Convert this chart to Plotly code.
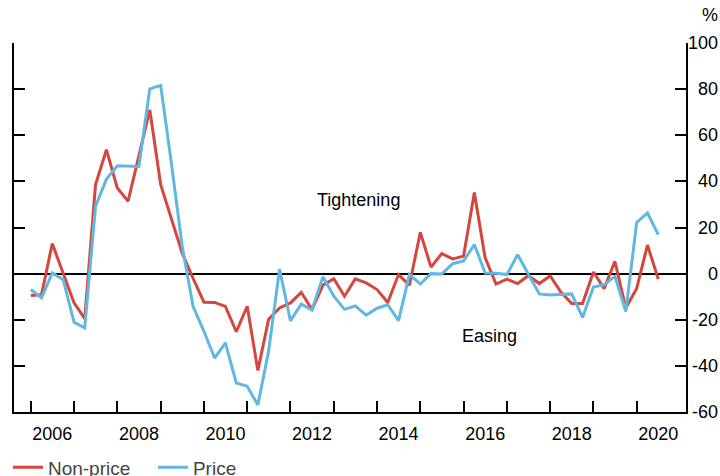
import pandas as pd
import plotly.graph_objects as go

# Quarterly observations, 2006 Q1 through 2020 Q3
quarters = pd.period_range("2006Q1", "2020Q3", freq="Q").start_time

non_price = [
    -9.5, -9.2, 13.0, 0.5, -12.7, -19.5, 38.6, 53.7, 37.1, 31.4,
    51.0, 71.0, 38.6, 23.4, 9.0, -2.0, -12.4, -12.5, -14.2, -25.2,
    -14.2, -42.0, -19.8, -14.9, -12.7, -8.1, -15.6, -5.0, -2.2, -9.8,
    -2.3, -4.0, -6.9, -12.5, -0.4, -5.0, 17.9, 2.8, 8.7, 6.4,
    7.6, 35.2, 6.8, -4.5, -2.4, -4.3, -0.9, -4.3, -1.0, -8.0,
    -13.0, -13.0, 0.7, -6.5, 5.3, -14.9, -6.4, 12.4, -2.4,
]

price = [
    -6.9, -10.5, 0.3, -2.6, -21.1, -23.5, 29.2, 41.0, 46.8, 46.5,
    46.5, 80.1, 81.6, 48.0, 12.0, -14.2, -25.0, -36.6, -30.0, -47.4,
    -48.8, -57.0, -33.5, 2.0, -20.5, -13.2, -15.8, -1.4, -9.8, -15.5,
    -14.0, -18.0, -15.0, -13.5, -20.4, -0.4, -4.5, 0.0, -0.2, 4.3,
    5.5, 12.6, 0.3, 0.2, -0.4, 8.2, 0.0, -8.8, -9.3, -9.0,
    -8.8, -19.0, -5.8, -4.8, -1.2, -16.5, 22.2, 26.3, 16.9,
]

year_ticks = [f"{y}-01-01" for y in range(2006, 2021)]
year_label_pos = [f"{y}-07-01" for y in range(2006, 2021, 2)]
year_labels = [str(y) for y in range(2006, 2021, 2)]
y_ticks = [-60, -40, -20, 0, 20, 40, 60, 80, 100]
y_labels = [str(v) for v in y_ticks]

RED = "#d4473f"
BLUE = "#62b7e0"
FONT = "Liberation Sans, Arial, sans-serif"
x_range = ["2005-08-12", "2021-02-20"]

fig = go.Figure()
fig.add_trace(go.Scatter(x=quarters, y=non_price, mode="lines", name="Non-price",
                         line=dict(color=RED, width=3)))
fig.add_trace(go.Scatter(x=quarters, y=price, mode="lines", name="Price",
                         line=dict(color=BLUE, width=3)))
# invisible trace to carry the label axis
fig.add_trace(go.Scatter(x=[quarters[0]], y=[0], xaxis="x2", mode="markers",
                         marker=dict(opacity=0), showlegend=False, hoverinfo="skip"))

fig.update_layout(
    width=720, height=476,
    margin=dict(l=14, r=34, t=43, b=64, autoexpand=False),
    paper_bgcolor="white", plot_bgcolor="white",
    font=dict(family=FONT, size=18, color="black"),
    showlegend=True,
    legend=dict(orientation="h", xref="container", yref="container",
                x=0.011, xanchor="left", y=0.018, yanchor="middle",
                font=dict(size=19, color="#444444"), bgcolor="rgba(0,0,0,0)",
                itemwidth=30, entrywidth=100, traceorder="normal"),
    xaxis=dict(type="date", range=x_range, tickvals=year_ticks, showticklabels=False,
               ticks="inside", ticklen=11, tickwidth=2, tickcolor="black",
               showline=True, linecolor="black", linewidth=2,
               showgrid=False, zeroline=False, automargin=False),
    xaxis2=dict(type="date", range=x_range, overlaying="x", anchor="y", side="bottom",
                tickvals=year_label_pos, ticktext=year_labels, ticks="",
                showline=False, showgrid=False, zeroline=False, automargin=False,
                tickfont=dict(size=18, color="black"), ticklabelstandoff=9),
    yaxis=dict(range=[-60, 100], side="right", tickvals=y_ticks, showticklabels=False,
               ticks="inside", ticklen=11, tickwidth=2, tickcolor="black",
               showline=True, linecolor="black", linewidth=2, mirror="ticks",
               showgrid=False, zeroline=True, zerolinecolor="black", zerolinewidth=1.5,
               automargin=False),
)

for v, t in zip(y_ticks, y_labels):
    fig.add_annotation(x=1.0506, xref="paper", y=v, yref="y", text=t,
                       showarrow=False, xanchor="right", yanchor="middle",
                       font=dict(size=18, color="black"))

fig.add_annotation(x=1.0506, xref="paper", y=1.077, yref="paper", text="%",
                   showarrow=False, xanchor="right", yanchor="middle",
                   font=dict(size=18, color="black"))
fig.add_annotation(x="2013-07-27", y=32, text="Tightening", showarrow=False,
                   font=dict(size=18, color="black"))
fig.add_annotation(x="2016-08-07", y=-27, text="Easing", showarrow=False,
                   font=dict(size=18, color="black"))

fig.write_html("out.html", config={"displayModeBar": False},
               post_script="document.body.style.margin='0';")
